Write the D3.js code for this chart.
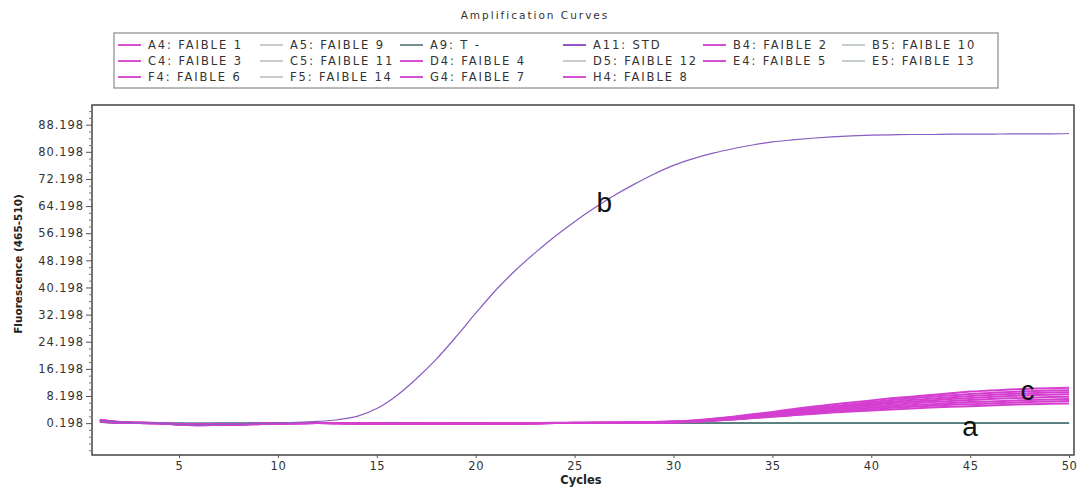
<!DOCTYPE html>
<html>
<head>
<meta charset="utf-8">
<script src="https://cdn.jsdelivr.net/npm/d3@7/dist/d3.min.js"></script>
<style>
  html, body { margin: 0; padding: 0; background: #fff; }
  svg { display: block; }
</style>
</head>
<body>
<svg id="chart" width="1080" height="488"></svg>
<script>
// ---------------- DATA ----------------
const chartTitle = "Amplification Curves";
const xAxisTitle = "Cycles";
const yAxisTitle = "Fluorescence (465-510)";
const cycles = d3.range(1, 51);                     // cycle numbers 1..50
const xTickValues = [5, 10, 15, 20, 25, 30, 35, 40, 45, 50];
const yTickLabels = ["0.198","8.198","16.198","24.198","32.198","40.198","48.198","56.198","64.198","72.198","80.198","88.198"];
const yTickValues = [0.198, 8.198, 16.198, 24.198, 32.198, 40.198, 48.198, 56.198, 64.198, 72.198, 80.198, 88.198];

// legend entries in display order (row by row, 6 per row)
const seriesNames = [
  "A4: FAIBLE 1", "A5: FAIBLE 9", "A9: T -", "A11: STD", "B4: FAIBLE 2", "B5: FAIBLE 10",
  "C4: FAIBLE 3", "C5: FAIBLE 11", "D4: FAIBLE 4", "D5: FAIBLE 12", "E4: FAIBLE 5", "E5: FAIBLE 13",
  "F4: FAIBLE 6", "F5: FAIBLE 14", "G4: FAIBLE 7", "H4: FAIBLE 8"
];
const seriesKind = [
  "weak", "neg", "ctrl", "std", "weak", "neg",
  "weak", "neg", "weak", "neg", "weak", "neg",
  "weak", "neg", "weak", "weak"
];

// fluorescence values, cycles 1..50
const stdValues = [1.0,0.5,0.3,0.2,-0.2,-0.3,-0.2,-0.1,0.1,0.2,0.4,0.7,1.2,2.2,4.5,8.3,13.3,19.0,25.6,32.6,
  39.3,45.2,50.4,55.2,59.6,63.6,67.3,70.6,73.6,76.2,78.2,79.8,81.1,82.2,83.1,83.7,84.2,84.6,84.9,85.1,
  85.2,85.3,85.3,85.4,85.4,85.4,85.5,85.5,85.5,85.6];

const faible1 = [0.9,0.4,0.3,0.2,-0.2,-0.3,-0.3,-0.2,0.0,0.1,0.2,0.2,0.2,0.1,0.0,0.0,0.1,0.1,0.0,0.0,
  0.1,0.1,0.2,0.3,0.3,0.3,0.3,0.4,0.5,0.7,1.0,1.5,2.1,2.8,3.5,4.3,5.0,5.7,6.3,6.9,
  7.5,8.0,8.5,9.0,9.5,9.8,10.1,10.3,10.5,10.6];
const faible2 = [1.1,0.5,0.3,0.2,-0.1,-0.3,-0.2,-0.2,0.0,0.1,0.2,0.3,0.2,0.1,0.1,0.0,0.0,0.1,0.1,0.0,
  0.1,0.2,0.2,0.2,0.3,0.3,0.4,0.4,0.5,0.7,0.9,1.4,1.9,2.5,3.2,3.9,4.6,5.2,5.8,6.4,
  7.0,7.5,8.0,8.4,8.8,9.1,9.4,9.6,9.8,9.9];
const faible3 = [0.8,0.4,0.2,0.1,-0.2,-0.4,-0.3,-0.2,-0.1,0.1,0.2,0.2,0.1,0.1,0.0,0.1,0.1,0.0,0.0,0.1,
  0.1,0.1,0.2,0.2,0.3,0.3,0.3,0.4,0.4,0.6,0.9,1.3,1.8,2.4,3.0,3.7,4.3,4.9,5.5,6.0,
  6.5,7.0,7.4,7.8,8.2,8.5,8.8,9.0,9.2,9.3];
const faible4 = [1.2,0.5,0.3,0.2,-0.1,-0.2,-0.2,-0.1,0.0,0.1,0.2,0.2,0.2,0.1,0.0,0.0,0.1,0.1,0.1,0.0,
  0.0,0.1,0.2,0.2,0.2,0.3,0.3,0.3,0.4,0.6,0.8,1.2,1.7,2.2,2.8,3.4,4.0,4.5,5.1,5.6,
  6.1,6.5,6.9,7.3,7.6,7.9,8.2,8.4,8.6,8.7];
const faible5 = [0.7,0.3,0.2,0.1,-0.2,-0.3,-0.3,-0.2,0.0,0.0,0.1,0.2,0.2,0.1,0.1,0.0,0.0,0.0,0.1,0.1,
  0.1,0.1,0.1,0.2,0.2,0.3,0.3,0.3,0.4,0.5,0.7,1.1,1.5,2.0,2.6,3.1,3.7,4.2,4.7,5.2,
  5.6,6.0,6.4,6.7,7.0,7.3,7.5,7.7,7.9,8.0];
const faible6 = [1.0,0.4,0.3,0.2,-0.2,-0.3,-0.2,-0.2,-0.1,0.1,0.1,0.2,0.2,0.2,0.1,0.0,0.0,0.1,0.0,0.0,
  0.1,0.1,0.2,0.2,0.2,0.2,0.3,0.3,0.3,0.5,0.7,1.0,1.4,1.8,2.3,2.8,3.3,3.8,4.3,4.7,
  5.1,5.5,5.8,6.1,6.4,6.6,6.8,7.0,7.2,7.3];
const faible7 = [0.9,0.4,0.2,0.1,-0.2,-0.4,-0.3,-0.1,0.0,0.1,0.2,0.2,0.1,0.1,0.0,0.0,0.1,0.1,0.0,0.0,
  0.0,0.1,0.1,0.2,0.2,0.2,0.3,0.3,0.3,0.4,0.6,0.9,1.3,1.7,2.2,2.6,3.1,3.5,3.9,4.3,
  4.7,5.0,5.3,5.6,5.8,6.0,6.2,6.4,6.6,6.7];
const faible8 = [1.1,0.5,0.3,0.2,-0.1,-0.3,-0.3,-0.2,0.0,0.1,0.1,0.2,0.2,0.1,0.0,0.0,0.0,0.1,0.1,0.0,
  0.1,0.1,0.1,0.2,0.2,0.2,0.2,0.3,0.3,0.4,0.6,0.9,1.3,1.7,2.1,2.5,2.9,3.3,3.6,3.9,
  4.2,4.5,4.8,5.0,5.2,5.4,5.6,5.8,5.9,6.0];

const faible9  = [0.6,0.3,0.2,0.2,0.1,0.0,0.1,0.1,0.2,0.2,0.2,0.2,0.2,0.2,0.2,0.2,0.2,0.2,0.2,0.2,
  0.2,0.2,0.2,0.2,0.2,0.2,0.2,0.2,0.2,0.2,0.2,0.2,0.2,0.2,0.2,0.2,0.2,0.2,0.2,0.2,
  0.2,0.2,0.2,0.2,0.2,0.2,0.2,0.2,0.2,0.2];
const faible10 = [0.5,0.3,0.2,0.1,0.0,0.0,0.1,0.1,0.1,0.2,0.2,0.2,0.2,0.2,0.2,0.2,0.2,0.2,0.2,0.2,
  0.2,0.2,0.2,0.2,0.2,0.2,0.2,0.2,0.2,0.2,0.2,0.2,0.2,0.2,0.2,0.2,0.2,0.2,0.2,0.2,
  0.2,0.2,0.2,0.2,0.2,0.2,0.2,0.2,0.2,0.2];
const faible11 = [0.7,0.3,0.2,0.2,0.1,0.1,0.1,0.1,0.2,0.2,0.2,0.2,0.2,0.2,0.2,0.2,0.2,0.2,0.2,0.2,
  0.2,0.2,0.2,0.2,0.2,0.2,0.2,0.2,0.2,0.2,0.2,0.2,0.2,0.2,0.2,0.2,0.2,0.2,0.2,0.2,
  0.2,0.2,0.2,0.2,0.2,0.2,0.2,0.2,0.2,0.2];
const faible12 = [0.6,0.3,0.2,0.1,0.1,0.0,0.0,0.1,0.1,0.2,0.2,0.2,0.2,0.2,0.2,0.2,0.2,0.2,0.2,0.2,
  0.2,0.2,0.2,0.2,0.2,0.2,0.2,0.2,0.2,0.2,0.2,0.2,0.2,0.2,0.2,0.2,0.2,0.2,0.2,0.2,
  0.2,0.2,0.2,0.2,0.2,0.2,0.2,0.2,0.2,0.2];
const faible13 = [0.5,0.2,0.2,0.2,0.1,0.1,0.1,0.1,0.2,0.2,0.2,0.2,0.2,0.2,0.2,0.2,0.2,0.2,0.2,0.2,
  0.2,0.2,0.2,0.2,0.2,0.2,0.2,0.2,0.2,0.2,0.2,0.2,0.2,0.2,0.2,0.2,0.2,0.2,0.2,0.2,
  0.2,0.2,0.2,0.2,0.2,0.2,0.2,0.2,0.2,0.2];
const faible14 = [0.6,0.3,0.2,0.2,0.1,0.0,0.1,0.1,0.2,0.2,0.2,0.2,0.2,0.2,0.2,0.2,0.2,0.2,0.2,0.2,
  0.2,0.2,0.2,0.2,0.2,0.2,0.2,0.2,0.2,0.2,0.2,0.2,0.2,0.2,0.2,0.2,0.2,0.2,0.2,0.2,
  0.2,0.2,0.2,0.2,0.2,0.2,0.2,0.2,0.2,0.2];
const tNegValues = [0.4,0.2,0.2,0.2,0.2,0.2,0.2,0.2,0.2,0.2,0.2,0.2,0.2,0.2,0.2,0.2,0.2,0.2,0.2,0.2,
  0.2,0.2,0.2,0.2,0.2,0.2,0.2,0.2,0.2,0.2,0.2,0.2,0.2,0.2,0.2,0.2,0.2,0.2,0.2,0.2,
  0.2,0.2,0.2,0.2,0.2,0.2,0.2,0.2,0.2,0.2];

// values matched to the legend order
const seriesValues = [
  faible1, faible9, tNegValues, stdValues, faible2, faible10,
  faible3, faible11, faible4, faible12, faible5, faible13,
  faible6, faible14, faible7, faible8
];

// curve annotations
const annotations = [
  {label: "b", cycle: 26.5, value: 62.5},
  {label: "c", cycle: 47.9, value: 7},
  {label: "a", cycle: 45.0, value: -3.5}
];

// ---------------- STYLE / LAYOUT ----------------
const kindColor = { weak: "#d84fd3", neg: "#8f9c9c", ctrl: "#3a5e5e", std: "#9455c4" };
const kindCurveColor = { weak: "#d43fd0", neg: "#6f8f8f", ctrl: "#4f7a7a", std: "#8a5cc0" };
const kindLegendWidth = { weak: 2, neg: 1, ctrl: 1.4, std: 2 };
const plot = { left: 92, right: 1074, top: 105, bottom: 455 };

const svg = d3.select("#chart");
const FONT = "'DejaVu Sans', Verdana, sans-serif";

const x = d3.scaleLinear().domain([0.6, 50.25]).range([plot.left, plot.right]);
const y = d3.scaleLinear().domain([-9.2, 94.0]).range([plot.bottom, plot.top]);

// title
svg.append("text")
  .attr("x", 535).attr("y", 19)
  .attr("text-anchor", "middle")
  .attr("font-family", FONT).attr("font-size", 10.5)
  .attr("letter-spacing", 2.0)
  .attr("fill", "#333")
  .text(chartTitle);

// legend
const legendBox = { x: 114, y: 33, w: 884, h: 55 };
svg.append("rect")
  .attr("x", legendBox.x).attr("y", legendBox.y)
  .attr("width", legendBox.w).attr("height", legendBox.h)
  .attr("fill", "#fff").attr("stroke", "#8a8a8a").attr("stroke-width", 1.2);
const colTextX = [148, 290, 430, 593, 733, 872];
const rowY = [45, 61, 77];
const legend = svg.append("g");
seriesNames.forEach((name, i) => {
  const c = i % 6, r = Math.floor(i / 6);
  const tx = colTextX[c], ty = rowY[r];
  const k = seriesKind[i];
  legend.append("line")
    .attr("x1", tx - 30).attr("x2", tx - 7)
    .attr("y1", ty).attr("y2", ty)
    .attr("stroke", kindColor[k]).attr("stroke-width", kindLegendWidth[k]);
  legend.append("text")
    .attr("x", tx).attr("y", ty + 4)
    .attr("font-family", FONT).attr("font-size", 11.5)
    .attr("letter-spacing", 1.9)
    .attr("fill", "#333")
    .text(name);
});

// frame
svg.append("rect")
  .attr("x", plot.left).attr("y", plot.top)
  .attr("width", plot.right - plot.left).attr("height", plot.bottom - plot.top)
  .attr("fill", "none").attr("stroke", "#444").attr("stroke-width", 1.5);

// y axis with minor ticks
const yMinor = d3.range(-7.802, 94, 2).filter(v => !yTickValues.some(t => Math.abs(t - v) < 0.01));
const yMinorAxis = d3.axisLeft(y).tickValues(yMinor).tickSize(3).tickFormat("");
svg.append("g").attr("transform", `translate(${plot.left},0)`).call(yMinorAxis)
  .call(g => g.select(".domain").remove())
  .call(g => g.selectAll("line").attr("stroke", "#777"));
const yAxis = d3.axisLeft(y).tickValues(yTickValues).tickSize(6).tickPadding(2)
  .tickFormat((d, i) => yTickLabels[i]);
svg.append("g").attr("transform", `translate(${plot.left},0)`).call(yAxis)
  .call(g => g.select(".domain").remove())
  .call(g => g.selectAll("line").attr("stroke", "#555"))
  .call(g => g.selectAll("text").attr("font-family", FONT).attr("font-size", 11.5)
    .attr("letter-spacing", 0.9).attr("fill", "#333"));

// x axis
const xAxis = d3.axisBottom(x).tickValues(xTickValues).tickSize(3).tickPadding(4);
svg.append("g").attr("transform", `translate(0,${plot.bottom})`).call(xAxis)
  .call(g => g.select(".domain").remove())
  .call(g => g.selectAll("line").attr("stroke", "#555"))
  .call(g => g.selectAll("text").attr("font-family", FONT).attr("font-size", 11.5)
    .attr("letter-spacing", 0.6).attr("fill", "#333"));

// axis titles
svg.append("text")
  .attr("x", 581).attr("y", 484)
  .attr("text-anchor", "middle")
  .attr("font-family", FONT).attr("font-size", 11.5).attr("font-weight", "bold")
  .attr("fill", "#222")
  .text(xAxisTitle);
svg.append("text")
  .attr("transform", "translate(22,264) rotate(-90)")
  .attr("text-anchor", "middle")
  .attr("font-family", FONT).attr("font-size", 10.5).attr("font-weight", "bold")
  .attr("fill", "#222")
  .text(yAxisTitle);

// curves
const line = d3.line().curve(d3.curveMonotoneX).x((d, i) => x(cycles[i])).y(d => y(d));
const plotG = svg.append("g");
const drawOrder = ["neg", "ctrl", "weak", "std"];
drawOrder.forEach(kind => {
  seriesValues.forEach((vals, i) => {
    if (seriesKind[i] !== kind) return;
    plotG.append("path")
      .datum(vals)
      .attr("d", line)
      .attr("fill", "none")
      .attr("stroke", kindCurveColor[kind])
      .attr("stroke-width", kind === "weak" ? 2 : 1.2);
  });
});

// annotations
annotations.forEach(a => {
  svg.append("text")
    .attr("x", x(a.cycle)).attr("y", y(a.value))
    .attr("text-anchor", "middle")
    .attr("font-family", "'Liberation Sans', Arial, sans-serif")
    .attr("font-size", 28)
    .attr("fill", "#111")
    .text(a.label);
});
</script>
</body>
</html>
